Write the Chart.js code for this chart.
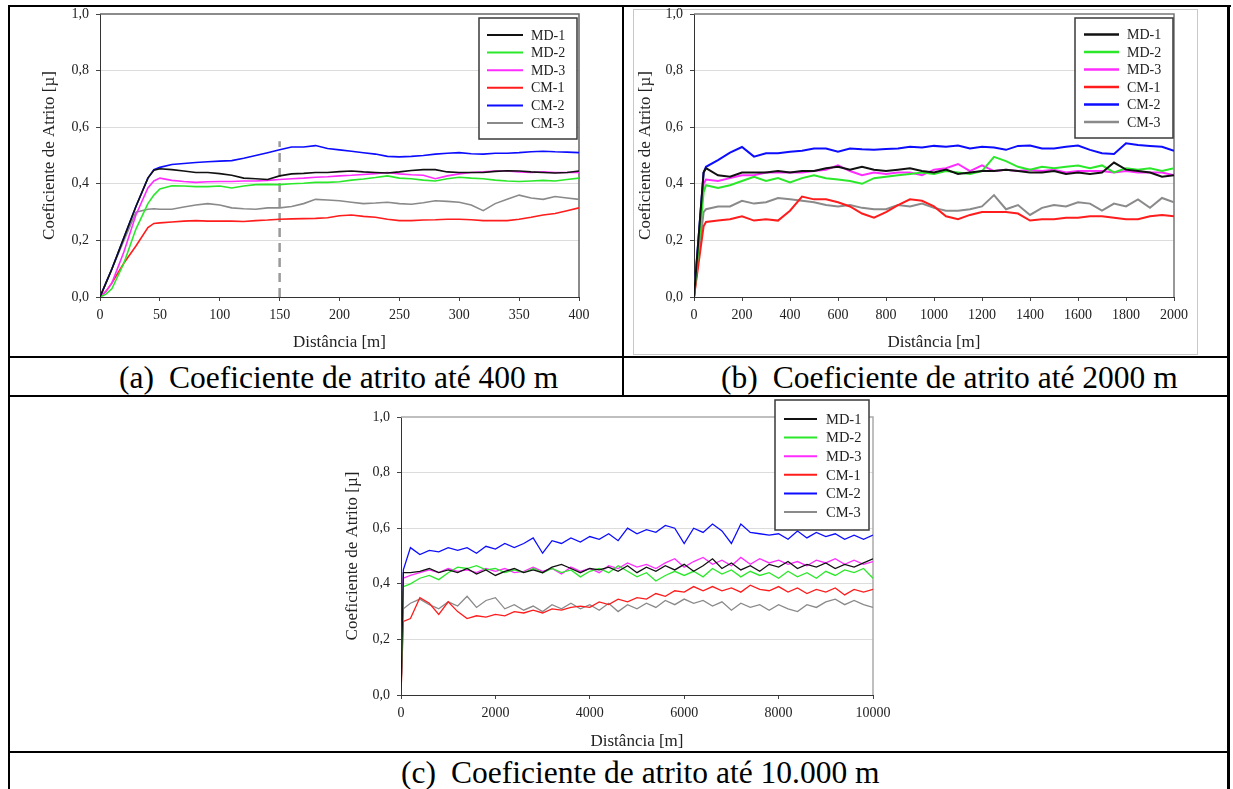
<!DOCTYPE html>
<html>
<head>
<meta charset="utf-8">
<script src="https://cdn.jsdelivr.net/npm/chart.js@4.4.1/dist/chart.umd.min.js"></script>
<style>
body { margin: 0; background: #fff; }
#page { position: relative; width: 1233px; height: 789px; overflow: hidden; font-family: 'Liberation Serif', 'Times New Roman', 'DejaVu Serif', serif; }
.ln { position: absolute; background: #000; }
canvas { position: absolute; }
.cap { position: absolute; font-size: 31.5px; line-height: 31.5px; white-space: nowrap; color: #000; }
.cap span { margin-left: 15px; }
</style>
</head>
<body>
<div id="page">
  <div style="position:absolute;left:633px;top:9px;width:563px;height:344px;border:1px solid #c8c8c8"></div>
  <canvas id="chartA" width="600" height="349" style="left:10px;top:7px"></canvas>
  <canvas id="chartB" width="590" height="349" style="left:630px;top:7px"></canvas>
  <canvas id="chartC" width="570" height="355" style="left:330px;top:397px"></canvas>

  <div class="ln" style="left:8px;top:5px;width:1223px;height:2px"></div>
  <div class="ln" style="left:8px;top:5px;width:2px;height:784px"></div>
  <div class="ln" style="left:1227px;top:5px;width:3px;height:784px"></div>
  <div class="ln" style="left:622px;top:5px;width:2px;height:392px"></div>
  <div class="ln" style="left:8px;top:356px;width:1222px;height:2px"></div>
  <div class="ln" style="left:8px;top:395px;width:1222px;height:2px"></div>
  <div class="ln" style="left:8px;top:751px;width:1222px;height:2px"></div>

  <div class="cap" style="left:119px;top:362px">(a)<span>Coeficiente de atrito até 400 m</span></div>
  <div class="cap" style="left:721px;top:362px">(b)<span>Coeficiente de atrito até 2000 m</span></div>
  <div class="cap" style="left:401px;top:757px">(c)<span>Coeficiente de atrito até 10.000 m</span></div>
</div>
<script>
var serif = "'Liberation Serif', 'Times New Roman', 'DejaVu Serif', serif";

var seriesNames = ['MD-1', 'MD-2', 'MD-3', 'CM-1', 'CM-2', 'CM-3'];
var seriesColors = ['#111111', '#2be82b', '#ff2cff', '#ff1c1c', '#0c0cff', '#8a8a8a'];

// (a) ate 400 m
var distA = [0, 5, 10, 20, 30, 40, 45, 50, 60, 70, 80, 90, 100, 110, 120, 130, 140, 150, 160, 170, 180, 190, 200,
    210, 220, 230, 240, 250, 260, 270, 280, 290, 300, 310, 320, 330, 340, 350, 360, 370, 380, 390, 400];
var md1A = [0, 0.05, 0.1, 0.21, 0.32, 0.42, 0.448, 0.453, 0.45, 0.445, 0.44, 0.44, 0.436, 0.43, 0.42, 0.418, 0.415, 0.428, 0.435, 0.437, 0.44, 0.44, 0.443,
    0.445, 0.442, 0.44, 0.438, 0.442, 0.447, 0.45, 0.45, 0.442, 0.44, 0.44, 0.44, 0.444, 0.446, 0.445, 0.442, 0.44, 0.438, 0.44, 0.445];
var md2A = [0, 0.01, 0.03, 0.12, 0.24, 0.33, 0.36, 0.382, 0.393, 0.392, 0.39, 0.39, 0.392, 0.385, 0.392, 0.397, 0.398, 0.397, 0.4, 0.402, 0.405, 0.405, 0.407,
    0.413, 0.417, 0.422, 0.428, 0.42, 0.418, 0.413, 0.41, 0.418, 0.423, 0.42, 0.418, 0.413, 0.41, 0.408, 0.41, 0.412, 0.41, 0.415, 0.42];
var md3A = [0, 0.02, 0.05, 0.16, 0.29, 0.385, 0.41, 0.42, 0.412, 0.408, 0.405, 0.407, 0.408, 0.408, 0.41, 0.41, 0.412, 0.415, 0.418, 0.42, 0.423, 0.425, 0.428,
    0.43, 0.433, 0.436, 0.44, 0.435, 0.432, 0.43, 0.418, 0.428, 0.435, 0.44, 0.442, 0.445, 0.445, 0.442, 0.44, 0.442, 0.44, 0.44, 0.44];
var cm1A = [0, 0.02, 0.05, 0.12, 0.18, 0.245, 0.26, 0.262, 0.265, 0.268, 0.27, 0.268, 0.268, 0.268, 0.267, 0.27, 0.272, 0.275, 0.276, 0.277, 0.278, 0.28, 0.287,
    0.29, 0.285, 0.282, 0.275, 0.27, 0.27, 0.272, 0.273, 0.275, 0.275, 0.273, 0.27, 0.27, 0.27, 0.275, 0.282, 0.29, 0.295, 0.305, 0.315];
var cm2A = [0, 0.05, 0.1, 0.21, 0.32, 0.42, 0.45, 0.458, 0.468, 0.472, 0.475, 0.478, 0.48, 0.482, 0.49, 0.5, 0.51, 0.52, 0.53, 0.53, 0.535, 0.525, 0.52,
    0.515, 0.51, 0.505, 0.497, 0.495, 0.497, 0.5, 0.505, 0.508, 0.51, 0.506, 0.505, 0.508, 0.508, 0.51, 0.513, 0.515, 0.513, 0.512, 0.51];
var cm3A = [0, 0.05, 0.1, 0.2, 0.3, 0.31, 0.312, 0.31, 0.31, 0.318, 0.325, 0.33, 0.325, 0.315, 0.312, 0.31, 0.315, 0.315, 0.32, 0.33, 0.345, 0.343, 0.34,
    0.335, 0.33, 0.332, 0.335, 0.33, 0.328, 0.333, 0.34, 0.338, 0.335, 0.325, 0.305, 0.33, 0.345, 0.36, 0.35, 0.345, 0.355, 0.35, 0.345];
var markX = [150, 150];
var markY = [0, 0.55];

// (b) ate 2000 m
var distB = [0, 40, 50, 100, 150, 200, 250, 300, 350, 400, 450, 500, 550, 600, 650, 700, 750, 800, 850, 900, 950, 1000,
    1050, 1100, 1150, 1200, 1250, 1300, 1350, 1400, 1450, 1500, 1550, 1600, 1650, 1700, 1750, 1800, 1850, 1900, 1950, 2000];
var md1B = [0, 0.44, 0.455, 0.43, 0.425, 0.44, 0.44, 0.44, 0.445, 0.44, 0.445, 0.445, 0.455, 0.46, 0.45, 0.46, 0.45, 0.445, 0.45, 0.455, 0.445, 0.44,
    0.45, 0.435, 0.44, 0.445, 0.445, 0.45, 0.445, 0.44, 0.44, 0.445, 0.435, 0.44, 0.435, 0.44, 0.475, 0.45, 0.445, 0.44, 0.425, 0.43];
var md2B = [0, 0.37, 0.395, 0.385, 0.395, 0.41, 0.425, 0.41, 0.42, 0.405, 0.42, 0.43, 0.42, 0.415, 0.41, 0.4, 0.42, 0.425, 0.43, 0.435, 0.44, 0.435,
    0.445, 0.44, 0.435, 0.445, 0.495, 0.48, 0.46, 0.45, 0.46, 0.455, 0.46, 0.465, 0.455, 0.465, 0.44, 0.455, 0.45, 0.455, 0.445, 0.455];
var md3B = [0, 0.4, 0.415, 0.41, 0.42, 0.43, 0.43, 0.44, 0.44, 0.44, 0.44, 0.445, 0.45, 0.465, 0.445, 0.43, 0.44, 0.435, 0.44, 0.44, 0.43, 0.45,
    0.455, 0.47, 0.445, 0.465, 0.445, 0.45, 0.445, 0.45, 0.445, 0.45, 0.44, 0.445, 0.445, 0.445, 0.44, 0.445, 0.44, 0.44, 0.44, 0.43];
var cm1B = [0, 0.25, 0.265, 0.27, 0.275, 0.285, 0.27, 0.275, 0.27, 0.305, 0.355, 0.345, 0.345, 0.335, 0.32, 0.295, 0.28, 0.3, 0.325, 0.345, 0.34, 0.32,
    0.285, 0.275, 0.29, 0.3, 0.3, 0.3, 0.295, 0.27, 0.275, 0.275, 0.28, 0.28, 0.285, 0.285, 0.28, 0.275, 0.275, 0.285, 0.29, 0.285];
var cm2B = [0, 0.44, 0.46, 0.484, 0.51, 0.53, 0.496, 0.508, 0.508, 0.513, 0.517, 0.525, 0.525, 0.513, 0.525, 0.522, 0.52, 0.523, 0.525, 0.531, 0.528, 0.534,
    0.531, 0.535, 0.525, 0.531, 0.528, 0.52, 0.534, 0.535, 0.525, 0.525, 0.531, 0.535, 0.52, 0.508, 0.505, 0.543, 0.537, 0.534, 0.531, 0.517];
var cm3B = [0, 0.3, 0.31, 0.32, 0.32, 0.34, 0.33, 0.335, 0.35, 0.345, 0.34, 0.335, 0.325, 0.32, 0.325, 0.315, 0.31, 0.31, 0.325, 0.32, 0.33, 0.315,
    0.305, 0.305, 0.31, 0.32, 0.36, 0.31, 0.325, 0.29, 0.315, 0.325, 0.32, 0.335, 0.33, 0.305, 0.33, 0.32, 0.345, 0.315, 0.35, 0.335];

// (c) ate 10000 m
var distC = [0, 50, 200, 400, 600, 800, 1000, 1200, 1400, 1600, 1800, 2000, 2200, 2400, 2600, 2800, 3000, 3200, 3400, 3600, 3800, 4000,
    4200, 4400, 4600, 4800, 5000, 5200, 5400, 5600, 5800, 6000, 6200, 6400, 6600, 6800, 7000, 7200, 7400, 7600, 7800, 8000,
    8200, 8400, 8600, 8800, 9000, 9200, 9400, 9600, 9800, 10000];
var md1C = [0, 0.44, 0.44, 0.445, 0.455, 0.44, 0.45, 0.44, 0.455, 0.435, 0.45, 0.43, 0.445, 0.455, 0.44, 0.45, 0.44, 0.46, 0.47, 0.455, 0.44, 0.455,
    0.45, 0.46, 0.445, 0.465, 0.44, 0.46, 0.445, 0.465, 0.45, 0.47, 0.445, 0.465, 0.49, 0.455, 0.475, 0.45, 0.465, 0.445, 0.47, 0.46,
    0.48, 0.455, 0.47, 0.46, 0.475, 0.455, 0.47, 0.46, 0.475, 0.49];
var md2C = [0, 0.39, 0.4, 0.42, 0.43, 0.415, 0.44, 0.46, 0.455, 0.465, 0.45, 0.455, 0.44, 0.45, 0.44, 0.455, 0.44, 0.455, 0.44, 0.45, 0.425, 0.445,
    0.455, 0.44, 0.465, 0.445, 0.425, 0.44, 0.41, 0.43, 0.445, 0.43, 0.445, 0.425, 0.455, 0.435, 0.45, 0.425, 0.445, 0.43, 0.44, 0.42,
    0.445, 0.425, 0.44, 0.42, 0.445, 0.43, 0.45, 0.44, 0.455, 0.42];
var md3C = [0, 0.42, 0.43, 0.44, 0.45, 0.44, 0.455, 0.445, 0.45, 0.44, 0.455, 0.445, 0.455, 0.44, 0.445, 0.46, 0.445, 0.455, 0.435, 0.46, 0.445, 0.455,
    0.44, 0.465, 0.455, 0.475, 0.46, 0.47, 0.455, 0.475, 0.49, 0.46, 0.48, 0.495, 0.47, 0.485, 0.465, 0.495, 0.47, 0.49, 0.475, 0.485,
    0.47, 0.48, 0.465, 0.485, 0.475, 0.49, 0.47, 0.485, 0.47, 0.48];
var cm1C = [0, 0.265, 0.275, 0.35, 0.33, 0.29, 0.335, 0.3, 0.275, 0.285, 0.28, 0.29, 0.285, 0.3, 0.295, 0.305, 0.295, 0.31, 0.305, 0.315, 0.32, 0.315,
    0.335, 0.325, 0.345, 0.335, 0.35, 0.345, 0.365, 0.355, 0.375, 0.37, 0.39, 0.375, 0.39, 0.375, 0.385, 0.37, 0.395, 0.38, 0.375, 0.39,
    0.37, 0.385, 0.365, 0.38, 0.37, 0.385, 0.36, 0.38, 0.37, 0.38];
var cm2C = [0, 0.45, 0.53, 0.505, 0.52, 0.515, 0.53, 0.52, 0.53, 0.51, 0.535, 0.525, 0.545, 0.53, 0.545, 0.565, 0.51, 0.555, 0.545, 0.565, 0.55, 0.57,
    0.56, 0.58, 0.555, 0.6, 0.58, 0.595, 0.585, 0.61, 0.6, 0.545, 0.6, 0.585, 0.615, 0.59, 0.545, 0.615, 0.585, 0.58, 0.575, 0.58,
    0.56, 0.59, 0.565, 0.585, 0.57, 0.58, 0.56, 0.575, 0.56, 0.575];
var cm3C = [0, 0.31, 0.33, 0.345, 0.325, 0.31, 0.335, 0.32, 0.355, 0.315, 0.34, 0.35, 0.31, 0.325, 0.305, 0.32, 0.3, 0.325, 0.31, 0.33, 0.31, 0.325,
    0.305, 0.33, 0.3, 0.325, 0.31, 0.33, 0.315, 0.34, 0.325, 0.345, 0.33, 0.34, 0.32, 0.335, 0.305, 0.33, 0.315, 0.325, 0.305, 0.325,
    0.31, 0.3, 0.325, 0.315, 0.335, 0.345, 0.325, 0.34, 0.325, 0.315];

var yTicks = [0, 0.2, 0.4, 0.6, 0.8, 1.0];

function toPoints(xs, ys) {
    var pts = [];
    for (let i = 0; i < xs.length; i++) {
        pts.push({ x: xs[i], y: ys[i] });
    }
    return pts;
}

function makeSets(xs, list, width) {
    return list.map(function (ys, i) {
        return {
            label: seriesNames[i],
            data: toPoints(xs, ys),
            borderColor: seriesColors[i],
            borderWidth: width,
            pointRadius: 0,
            tension: 0,
            fill: false
        };
    });
}

// legend drawn inside the plot, like the original
const legendBox = {
    id: 'legendBox',
    afterDatasetsDraw(chart, args, o) {
        const ctx = chart.ctx, a = chart.chartArea;
        const bx = a.right - o.dr - o.w, by = a.top + o.dt;
        ctx.save();
        ctx.fillStyle = '#fff';
        ctx.fillRect(bx, by, o.w, o.h);
        ctx.strokeStyle = '#3a3a3a';
        ctx.lineWidth = 1.5;
        ctx.strokeRect(bx, by, o.w, o.h);
        ctx.font = o.size + 'px ' + serif;
        ctx.textBaseline = 'middle';
        ctx.fillStyle = '#222';
        let row = 0;
        chart.data.datasets.forEach(function (ds) {
            if (!ds.label) return;
            const y = by + o.first + row * o.step;
            ctx.strokeStyle = ds.borderColor;
            ctx.lineWidth = o.lw;
            ctx.beginPath();
            ctx.moveTo(bx + o.lx, y);
            ctx.lineTo(bx + o.lx + o.len, y);
            ctx.stroke();
            ctx.fillText(ds.label, bx + o.tx, y + 1);
            row++;
        });
        ctx.restore();
    }
};

const plotFrame = {
    id: 'plotFrame',
    beforeDatasetsDraw(chart, args, o) {
        const ctx = chart.ctx, a = chart.chartArea;
        ctx.save();
        ctx.strokeStyle = o.color;
        ctx.lineWidth = o.width;
        ctx.beginPath();
        ctx.moveTo(a.left, a.top);
        ctx.lineTo(a.right, a.top);
        ctx.lineTo(a.right, a.bottom);
        ctx.stroke();
        ctx.restore();
    }
};

function makeChart(id, sets, c) {
    return new Chart(document.getElementById(id), {
        type: 'line',
        data: { datasets: sets },
        plugins: [plotFrame, legendBox],
        options: {
            responsive: false,
            animation: false,
            layout: { padding: { left: 0, top: c.padTop, right: c.padRight, bottom: 0 } },
            scales: {
                x: {
                    type: 'linear',
                    min: 0,
                    max: c.xMax,
                    afterFit: function (s) { s.height = c.xHeight; s.paddingLeft = 0; s.paddingRight = 0; },
                    ticks: {
                        stepSize: c.xStep, autoSkip: false, maxRotation: 0, padding: 6,
                        color: '#222', font: { family: serif, size: 14 },
                        callback: function (v) { return String(v); }
                    },
                    grid: { drawOnChartArea: false, tickLength: 4, tickColor: '#444' },
                    border: { color: '#333', width: 1 },
                    title: {
                        display: true, text: 'Distância [m]', color: '#222',
                        font: { family: serif, size: 17 },
                        padding: { top: 0, bottom: c.xTitlePad }
                    }
                },
                y: {
                    min: 0,
                    max: 1,
                    afterFit: function (s) { s.width = c.yWidth; s.paddingTop = 0; s.paddingBottom = 0; },
                    afterBuildTicks: function (s) { s.ticks = yTicks.map(function (v) { return { value: v }; }); },
                    ticks: {
                        padding: 7, color: '#222', font: { family: serif, size: 14 },
                        callback: function (v) { return Number(v).toFixed(1).replace('.', ','); }
                    },
                    grid: {
                        tickLength: 4, tickColor: '#444',
                        color: function (ctx) {
                            var v = ctx.tick ? ctx.tick.value : 0;
                            return (v === 0 || v === 1) ? 'rgba(0,0,0,0)' : '#dcdcdc';
                        }
                    },
                    border: { color: '#333', width: 1 },
                    title: {
                        display: true, text: 'Coeficiente de Atrito [µ]', color: '#222',
                        font: { family: serif, size: 17 },
                        padding: { top: c.yTitlePad, bottom: 0 }
                    }
                }
            },
            plugins: {
                legend: { display: false },
                tooltip: { enabled: false },
                plotFrame: { color: c.frame, width: 1.5 },
                legendBox: c.legend
            }
        }
    });
}

var setsA = makeSets(distA, [md1A, md2A, md3A, cm1A, cm2A, cm3A], 1.6);
setsA.push({
    data: toPoints(markX, markY),
    borderColor: '#9a9a9a',
    borderWidth: 2.5,
    borderDash: [9, 6],
    pointRadius: 0,
    fill: false
});

makeChart('chartA', setsA, {
    xMax: 400, xStep: 50, padTop: 7, padRight: 31, yWidth: 90, xHeight: 59,
    yTitlePad: 29, xTitlePad: 3, frame: '#666',
    legend: { dr: 2, dt: 4, w: 98, h: 121, first: 17, step: 17.6, lx: 8, len: 36, tx: 52, size: 14, lw: 2 }
});

makeChart('chartB', makeSets(distB, [md1B, md2B, md3B, cm1B, cm2B, cm3B], 2), {
    xMax: 2000, xStep: 200, padTop: 7, padRight: 46, yWidth: 64, xHeight: 59,
    yTitlePad: 5, xTitlePad: 3, frame: '#777',
    legend: { dr: 1, dt: 4, w: 98, h: 120, first: 16.5, step: 17.5, lx: 9, len: 35, tx: 52, size: 14, lw: 2.5 }
});

makeChart('chartC', makeSets(distC, [md1C, md2C, md3C, cm1C, cm2C, cm3C], 1.3), {
    xMax: 10000, xStep: 2000, padTop: 20, padRight: 27, yWidth: 71, xHeight: 57,
    yTitlePad: 12, xTitlePad: 0, frame: '#aaa',
    legend: { dr: 4, dt: -17, w: 94, h: 130, first: 19, step: 18.6, lx: 9, len: 33, tx: 51, size: 14.5, lw: 2 }
});
</script>
</body>
</html>
